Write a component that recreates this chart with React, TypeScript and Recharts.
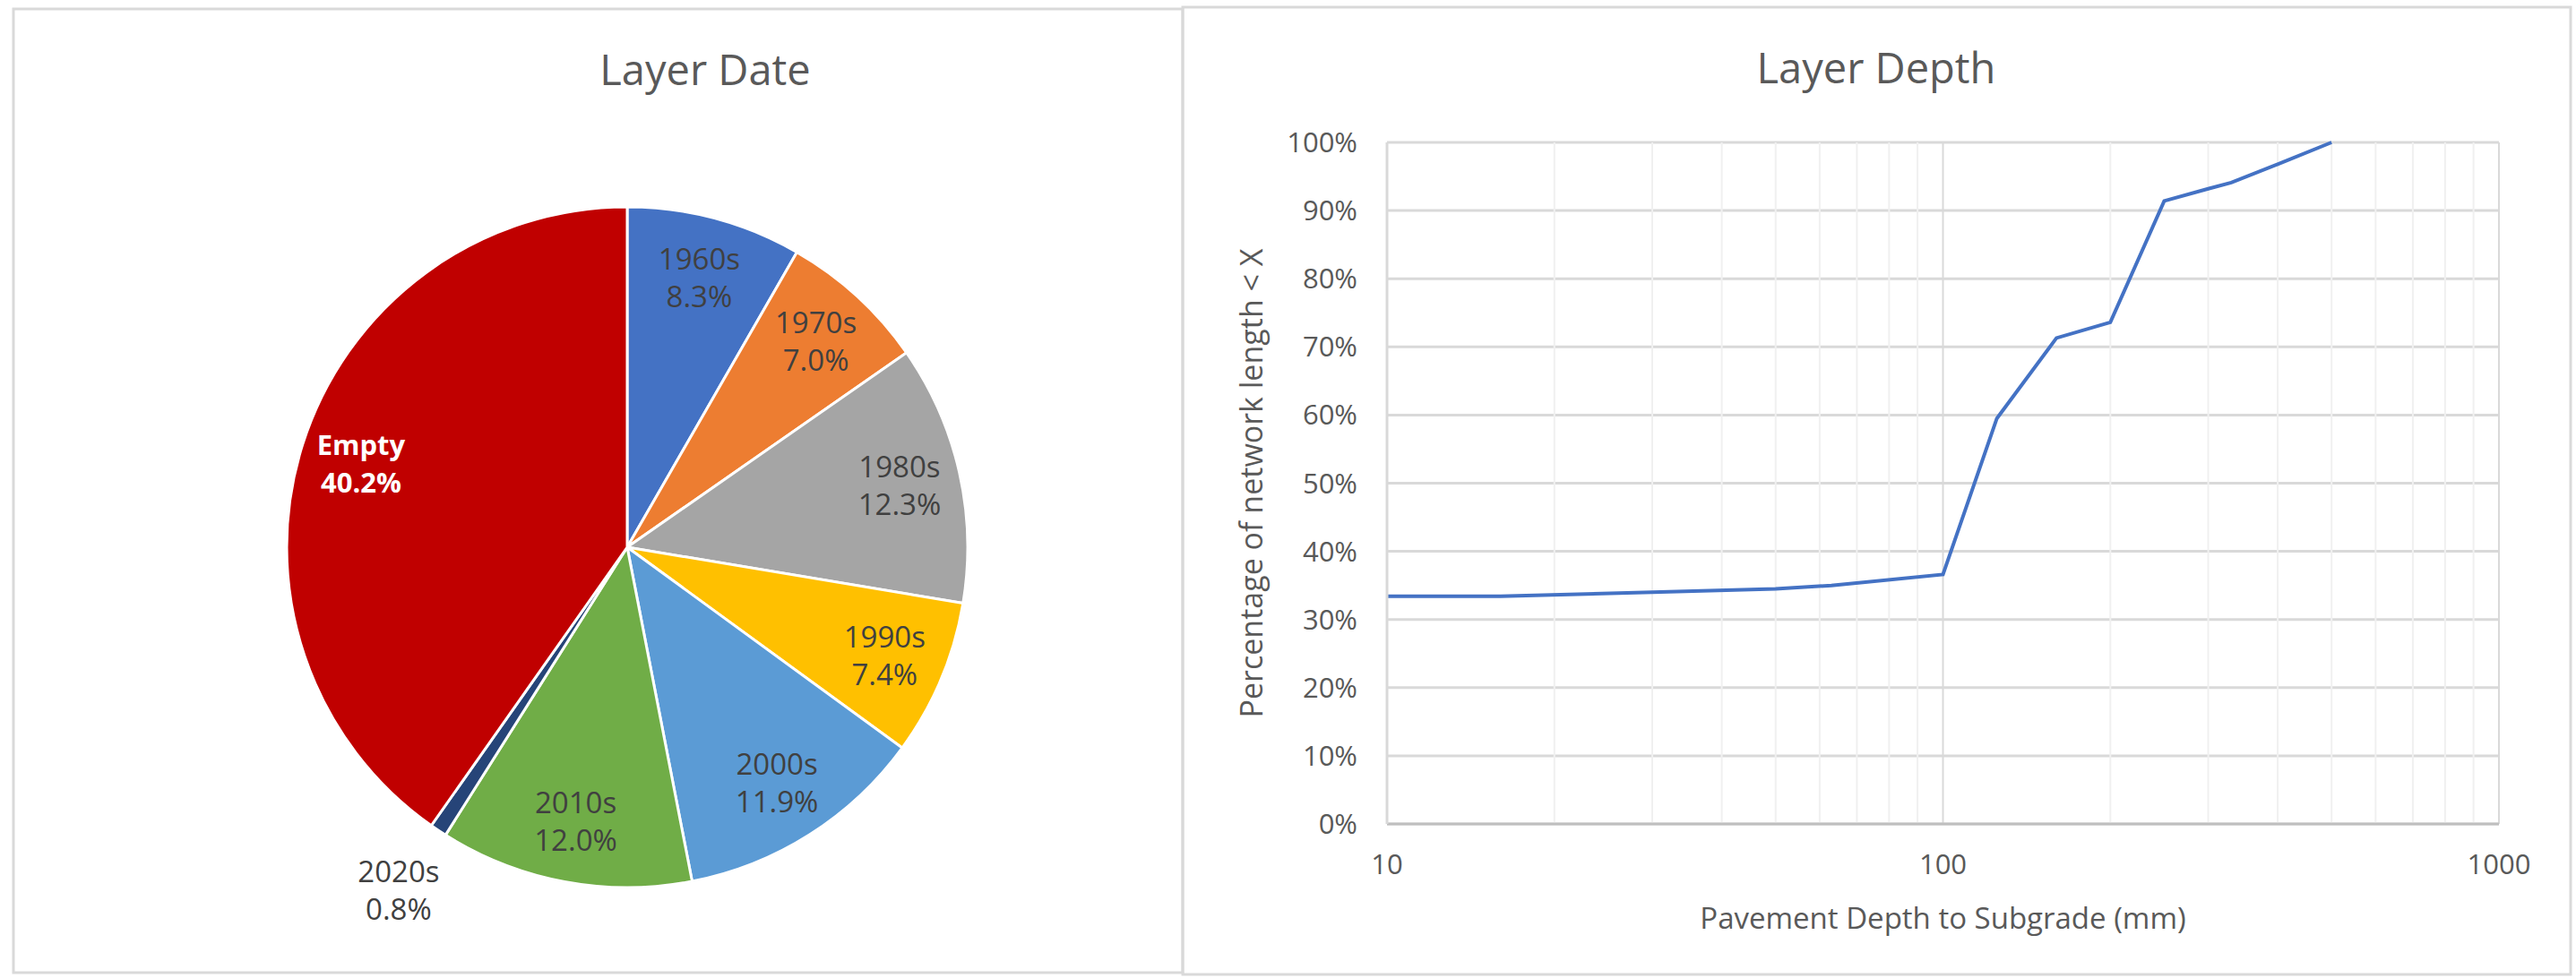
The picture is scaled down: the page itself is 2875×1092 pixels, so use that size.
import { PieChart, Pie, Cell, LineChart, Line, XAxis, YAxis, CartesianGrid, ReferenceLine, Label } from "recharts";

// Layer Date pie
const decades = ["1960s", "1970s", "1980s", "1990s", "2000s", "2010s", "2020s", "Empty"];
const shares = [8.3, 7.0, 12.3, 7.4, 11.9, 12.0, 0.8, 40.2];
const sliceColors = ["#4472C4", "#ED7D31", "#A5A5A5", "#FFC000", "#5B9BD5", "#70AD47", "#264478", "#C00000"];

// Layer Depth cumulative curve
const depthMm = [10, 16, 30, 50, 63, 100, 125, 160, 200, 250, 300, 330, 400, 500];
const pctBelow = [0.334, 0.334, 0.34, 0.345, 0.35, 0.366, 0.595, 0.713, 0.736, 0.914, 0.932, 0.941, 0.968, 1.0];
const xTicks = [10, 100, 1000];
const majorX = [100, 1000];
const minorX = [20, 30, 40, 50, 60, 70, 80, 90, 200, 300, 400, 500, 600, 700, 800, 900];
const yTicks = [0, 0.1, 0.2, 0.3, 0.4, 0.5, 0.6, 0.7, 0.8, 0.9, 1];

const FONT = "'Open Sans', sans-serif";
const RADIAN = Math.PI / 180;

const pieData = decades.map((name, i) => ({ name, value: shares[i] }));
const depthData = depthMm.map((depth, i) => ({ depth, pct: pctBelow[i] }));

const renderPieLabel = (props: any) => {
  const { cx, cy, midAngle, outerRadius, index } = props;
  const small = shares[index] < 2;
  const r = outerRadius * (small ? 1.21 : 0.82);
  const x = cx + r * Math.cos(-midAngle * RADIAN);
  const y = cy + r * Math.sin(-midAngle * RADIAN);
  const isEmpty = decades[index] === "Empty";
  return (
    <text
      x={x}
      y={y}
      textAnchor="middle"
      fontSize={isEmpty ? 31 : 33}
      fontWeight={isEmpty ? 700 : 400}
      fill={isEmpty ? "#FFFFFF" : "#404040"}
    >
      <tspan x={x} y={y - 9}>{decades[index]}</tspan>
      <tspan x={x} y={y + 33}>{shares[index].toFixed(1)}%</tspan>
    </text>
  );
};

export default function App() {
  return (
    <div style={{ position: "absolute", left: 0, top: 0, width: 2875, height: 1092, background: "#fff", fontFamily: FONT }}>
      <svg width={2875} height={1092} style={{ position: "absolute", left: 0, top: 0 }}>
        <rect x={15} y={10} width={1305} height={1076} fill="none" stroke="#D9D9D9" strokeWidth={3} />
        <rect x={1320} y={8} width={1549} height={1080} fill="none" stroke="#D9D9D9" strokeWidth={3} />
        <text x={787} y={95} textAnchor="middle" fontSize={47} fill="#595959">Layer Date</text>
        <text x={2094} y={93} textAnchor="middle" fontSize={47} fill="#595959">Layer Depth</text>
      </svg>

      {/* Pie */}
      <div style={{ position: "absolute", left: 15, top: 10 }}>
        <PieChart width={1305} height={1076}>
          <Pie
            data={pieData}
            dataKey="value"
            nameKey="name"
            cx={680}
            cy={596}
            outerRadius={380}
            startAngle={90}
            endAngle={-270}
            stroke="#FFFFFF"
            strokeWidth={3}
            label={renderPieLabel}
            labelLine={false}
            isAnimationActive={false}
          >
            {pieData.map((d, i) => (
              <Cell key={d.name} fill={sliceColors[i]} />
            ))}
          </Pie>
        </PieChart>
      </div>

      {/* Depth curve */}
      <div style={{ position: "absolute", left: 1320, top: 8 }}>
        <LineChart width={1549} height={1080} data={depthData} margin={{ top: 151, right: 80, bottom: 0, left: 0 }}>
          <CartesianGrid vertical={false} stroke="#D9D9D9" strokeWidth={3} />
          {minorX.map((v) => (
            <ReferenceLine key={v} x={v} stroke="#F0F0F0" strokeWidth={2} />
          ))}
          {majorX.map((v) => (
            <ReferenceLine key={v} x={v} stroke="#D9D9D9" strokeWidth={2} />
          ))}
          <XAxis
            dataKey="depth"
            type="number"
            scale="log"
            domain={[10, 1000]}
            ticks={xTicks}
            allowDataOverflow
            height={168}
            tickLine={false}
            tickSize={0}
            tickMargin={34}
            axisLine={{ stroke: "#BFBFBF", strokeWidth: 3 }}
            tick={{ fontSize: 31, fill: "#595959" }}
          >
            <Label value="Pavement Depth to Subgrade (mm)" position="insideBottom" offset={51} style={{ fontSize: 33, fill: "#595959" }} />
          </XAxis>
          <YAxis
            type="number"
            domain={[0, 1]}
            ticks={yTicks}
            width={228}
            tickLine={false}
            tickSize={0}
            tickMargin={33}
            axisLine={{ stroke: "#D9D9D9", strokeWidth: 3 }}
            tick={{ fontSize: 31, fill: "#595959" }}
            tickFormatter={(v: number) => `${Math.round(v * 100)}%`}
          >
            <Label
              value="Percentage of network length < X"
              angle={-90}
              position="insideLeft"
              offset={77}
              style={{ fontSize: 34, fill: "#595959", textAnchor: "middle" }}
            />
          </YAxis>
          <Line type="linear" dataKey="pct" stroke="#4472C4" strokeWidth={4} dot={false} isAnimationActive={false} />
        </LineChart>
      </div>
    </div>
  );
}
